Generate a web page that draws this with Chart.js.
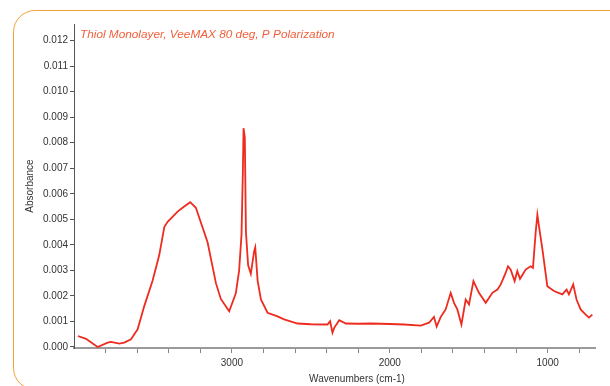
<!DOCTYPE html>
<html>
<head>
<meta charset="utf-8">
<script src="https://cdn.jsdelivr.net/npm/chart.js@4"></script>
<style>
  html, body { margin: 0; padding: 0; background: #fff; overflow: hidden; }
  #wrap { position: relative; width: 610px; height: 386px; }
  #frame {
    position: absolute; left: 13px; top: 10px; width: 700px; height: 378px;
    border: 1.5px solid #f2a238; border-radius: 22px;
  }
  #spectrum { position: absolute; left: 0; top: 0; }
</style>
</head>
<body>
<div id="wrap">
  <div id="frame"></div>
  <canvas id="spectrum" width="610" height="386"></canvas>
</div>
<script>
// wavenumbers (cm-1) and absorbance
const wavenumbers = [
  3975, 3924, 3850, 3787, 3766, 3713, 3682, 3639, 3618, 3597,
  3555, 3502, 3460, 3428, 3407, 3344, 3302, 3264, 3228, 3154,
  3101, 3070, 3017, 2975, 2954, 2939, 2930, 2926, 2918, 2911,
  2897, 2880, 2859, 2852, 2837, 2816, 2774, 2711, 2669, 2584,
  2500, 2394, 2378, 2363, 2352, 2320, 2278, 2200, 2120, 2000,
  1909, 1804, 1751, 1720, 1703, 1677, 1667, 1646, 1614, 1593,
  1572, 1546, 1519, 1498, 1470, 1435, 1392, 1350, 1318, 1297,
  1266, 1251, 1234, 1209, 1192, 1175, 1139, 1108, 1093, 1076,
  1065, 1055, 1033, 1002, 960, 907, 880, 865, 838, 817,
  791, 759, 738, 717
];
const absorbance = [
  0.00043, 0.00032, 0.00000, 0.00017, 0.00020, 0.00013, 0.00017, 0.00030, 0.00050, 0.00069,
  0.00160, 0.00260, 0.00360, 0.00470, 0.00490, 0.00530, 0.00550, 0.00567, 0.00545, 0.00410,
  0.00250, 0.00188, 0.00140, 0.00210, 0.00300, 0.00440, 0.00700, 0.00857, 0.00820, 0.00450,
  0.00320, 0.00287, 0.00375, 0.00390, 0.00260, 0.00186, 0.00134, 0.00120, 0.00108, 0.00092,
  0.00089, 0.00088, 0.00101, 0.00056, 0.00075, 0.00105, 0.00092, 0.00091, 0.00092, 0.00090,
  0.00088, 0.00084, 0.00095, 0.00118, 0.00080, 0.00118, 0.00127, 0.00147, 0.00212, 0.00173,
  0.00147, 0.00088, 0.00186, 0.00167, 0.00258, 0.00212, 0.00173, 0.00212, 0.00225, 0.00245,
  0.00290, 0.00316, 0.00303, 0.00258, 0.00297, 0.00267, 0.00303, 0.00316, 0.00310, 0.00447,
  0.00518, 0.00473, 0.00382, 0.00238, 0.00219, 0.00206, 0.00225, 0.00206, 0.00245, 0.00186,
  0.00147, 0.00127, 0.00115, 0.00127
];
const yTicks = [0, 0.001, 0.002, 0.003, 0.004, 0.005, 0.006, 0.007, 0.008, 0.009, 0.010, 0.011, 0.012];
const xTicks = [800, 1000, 1200, 1400, 1600, 1800, 2000, 2200, 2400, 2600, 2800, 3000, 3200, 3400, 3600, 3800];
const xLabelled = [1000, 2000, 3000];

const titleText = "Thiol Monolayer, VeeMAX 80 deg, P Polarization";
const xTitleText = "Wavenumbers (cm-1)";

// spectrum title sits inside the plot, x title is off-centre
const textPlugin = {
  id: "extraText",
  afterDraw(chart) {
    const ctx = chart.ctx;
    const area = chart.chartArea;
    ctx.save();
    ctx.font = "italic 11.8px 'Liberation Sans', Arial, sans-serif";
    ctx.fillStyle = "#f1603c";
    ctx.textBaseline = "middle";
    ctx.textAlign = "left";
    ctx.fillText(titleText, area.left + 6, 35);
    ctx.font = "10px 'Liberation Sans', Arial, sans-serif";
    ctx.fillStyle = "#333";
    ctx.textAlign = "center";
    ctx.fillText(xTitleText, 357, 379);
    ctx.restore();
  },
};

const ctx = document.getElementById("spectrum").getContext("2d");

new Chart(ctx, {
  type: "line",
  data: {
    datasets: [
      {
        data: wavenumbers.map((w, i) => ({ x: w, y: absorbance[i] })),
        borderColor: "#ee2b1f",
        borderWidth: 1.8,
        pointRadius: 0,
        tension: 0,
        fill: false,
      },
    ],
  },
  options: {
    responsive: false,
    animation: false,
    devicePixelRatio: 1,
    layout: { padding: { top: 24, right: 15, left: 0, bottom: 0 } },
    plugins: {
      legend: { display: false },
      tooltip: { enabled: false },
    },
    scales: {
      x: {
        type: "linear",
        reverse: true,
        min: 700,
        max: 4000,
        afterFit: (scale) => { scale.height = 38; },
        afterBuildTicks: (scale) => { scale.ticks = xTicks.map((v) => ({ value: v })); },
        ticks: {
          autoSkip: false,
          maxRotation: 0,
          padding: 4,
          color: "#333",
          font: { family: "'Liberation Sans', Arial, sans-serif", size: 10 },
          callback: (value) => (xLabelled.includes(value) ? String(value) : ""),
        },
        grid: { drawOnChartArea: false, tickLength: 5, color: "#888", lineWidth: 1 },
        border: { color: "#9a9a9a", width: 2 },
      },
      y: {
        min: -0.00004,
        max: 0.01265,
        afterFit: (scale) => { scale.width = 74; },
        afterBuildTicks: (scale) => { scale.ticks = yTicks.map((v) => ({ value: v })); },
        ticks: {
          autoSkip: false,
          padding: 2,
          color: "#333",
          font: { family: "'Liberation Sans', Arial, sans-serif", size: 10 },
          callback: (value) => value.toFixed(3),
        },
        grid: { drawOnChartArea: false, tickLength: 4, color: "#555", lineWidth: 1 },
        border: { color: "#555", width: 1, dash: [1, 2] },
        title: {
          display: true,
          text: "Absorbance",
          color: "#333",
          font: { family: "'Liberation Sans', Arial, sans-serif", size: 10 },
          padding: { top: 24, bottom: 0 },
        },
      },
    },
  },
  plugins: [textPlugin],
});
</script>
</body>
</html>
